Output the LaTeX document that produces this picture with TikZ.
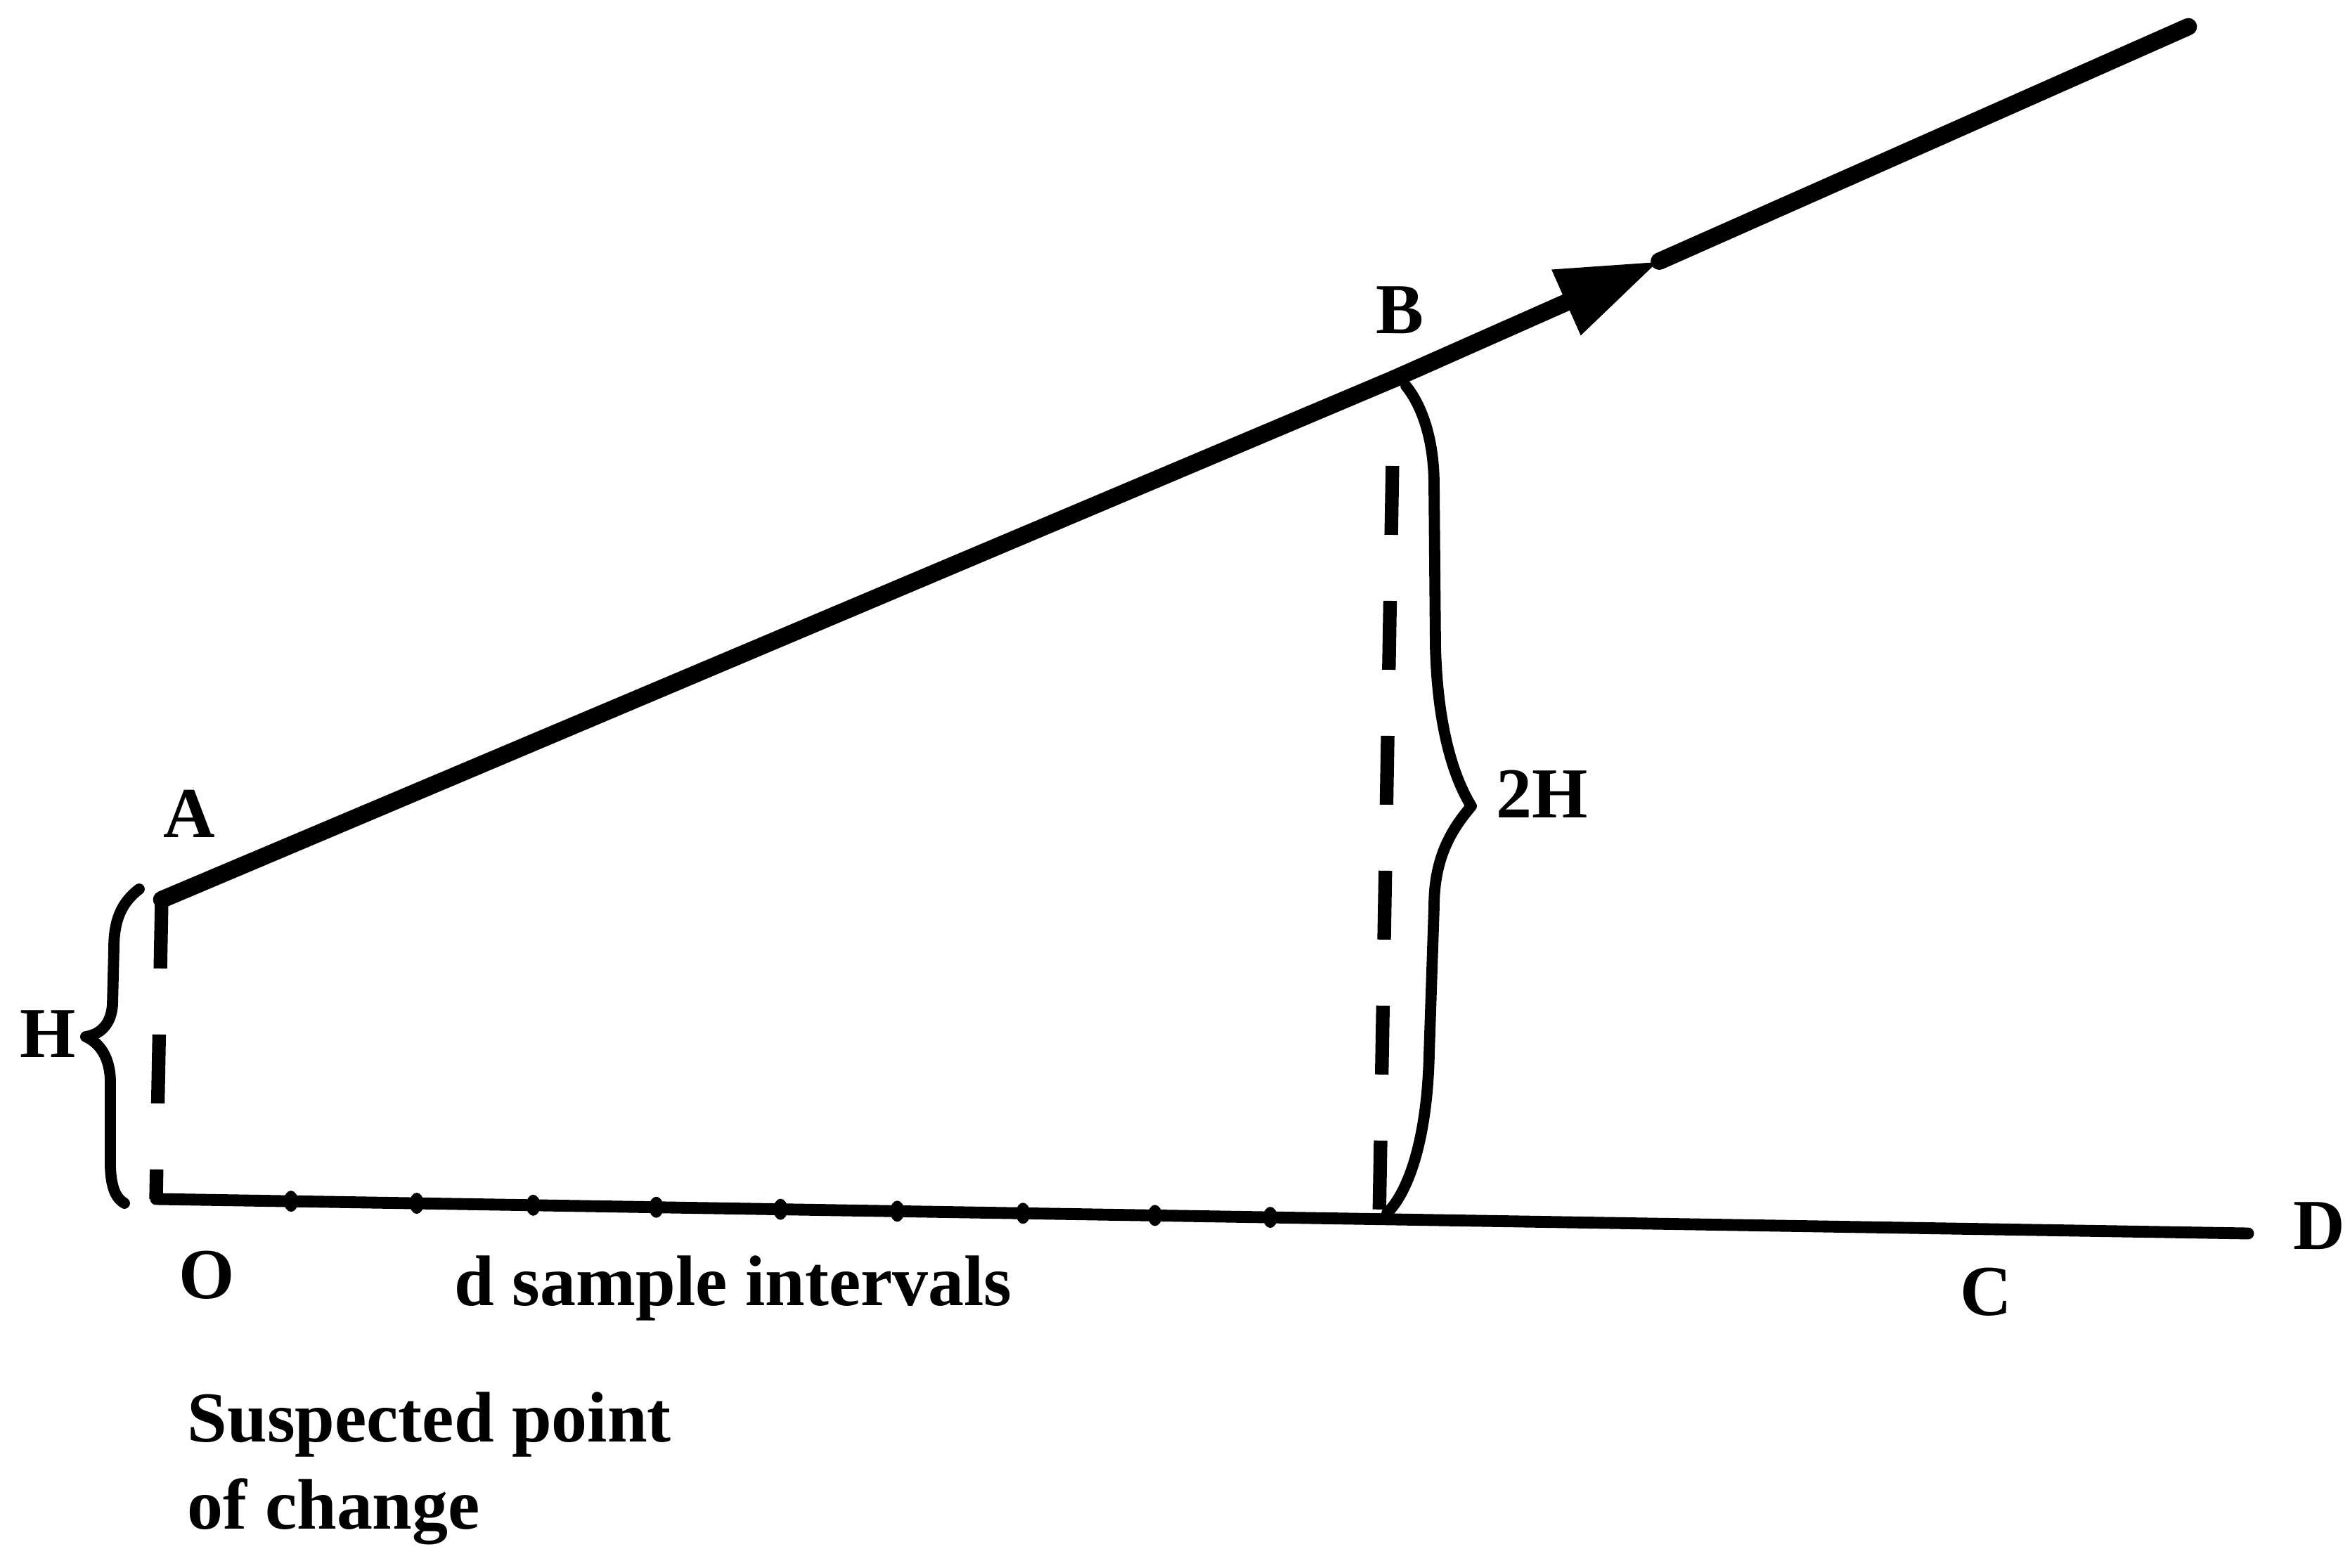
\documentclass[tikz,border=0pt]{standalone}
\usepackage{fontspec}
\setmainfont{Liberation Serif}
\usetikzlibrary{calc,arrows.meta,shapes.geometric}
\begin{document}
\begin{tikzpicture}[
  mainline/.style={line width=7pt, line cap=round, line join=round},
  baseline/.style={line width=4.8pt, line cap=round},
  dashline/.style={line width=5.5pt, dash pattern=on 0.98cm off 0.94cm},
  bracepath/.style={line width=4.5pt, line cap=round, line join=round},
  lbl/.style={inner sep=0pt, font=\fontsize{29}{36}\selectfont\bfseries},
  tick/.style={ellipse, fill=black, inner sep=0pt, minimum width=0.2cm, minimum height=0.3cm}
]
\useasboundingbox (0,0) rectangle (33.43,22.30);

% key points
\coordinate (A) at (2.30,9.50);
\coordinate (O) at (2.22,5.24);
\coordinate (B) at (19.83,16.91);
\coordinate (E) at (31.13,21.92);
\coordinate (Dend) at (31.98,4.75);
\coordinate (Bb) at (19.62,4.95);
\coordinate (Bt) at ($(B)!1.24cm!(Bb)$);
\coordinate (T) at ($(B)!0.334!(E)$);

% bottom line O -- D
\draw[baseline] (O) -- (Dend);
% sample ticks
\foreach \t [count=\i] in {0.0645,0.1246,0.1803,0.2391,0.2985,0.3543,0.4144,0.4775,0.5326}
  \node[tick] (s\i) at ($(O)!\t!(Dend)$) {};

% left dashed line A -- O
\draw[dashline] (A) -- (O);
% right dashed line under B
\draw[dashline] (Bt) -- (Bb);

% main line with arrow
\draw[mainline] (A) -- (B);
\draw[mainline, -{Triangle[length=1.45cm,width=0.95cm]}] (B) -- (T);
\draw[mainline] (T) -- (E);
\fill (B) circle (0.12);

% brace H
\draw[bracepath] (1.98,9.65) .. controls (1.72,9.45) and (1.62,9.20) .. (1.62,8.80)
  -- (1.60,8.00) .. controls (1.58,7.72) and (1.42,7.58) .. (1.22,7.55)
  .. controls (1.42,7.46) and (1.57,7.25) .. (1.57,6.90)
  -- (1.57,5.70) .. controls (1.58,5.40) and (1.65,5.25) .. (1.77,5.18);

% brace 2H
\draw[bracepath] (20.00,16.81) .. controls (20.25,16.50) and (20.40,16.00) .. (20.40,15.40)
  -- (20.42,13.10) .. controls (20.45,11.90) and (20.70,11.20) .. (20.93,10.83)
  .. controls (20.65,10.50) and (20.40,10.10) .. (20.40,9.40)
  -- (20.33,7.30) .. controls (20.30,6.00) and (20.00,5.30) .. (19.73,5.04);

% labels
\node[lbl] (lA) at (2.69,10.72) {A};
\node[lbl] (lB) at (19.91,17.89) {B};
\node[lbl] (lO) at (2.94,4.16) {O};
\node[lbl] (lC) at (28.25,3.92) {C};
\node[lbl, anchor=west] (lD) at (32.62,4.86) {D};
\node[lbl, anchor=west] (l2H) at (21.28,11.0) {2H};
\node[lbl] (lH) at (0.68,7.59) {H};
\node[lbl, anchor=base west] (ld) at (6.46,3.73) {d sample intervals};
\node[lbl, anchor=base west] (ls1) at (2.66,1.79) {Suspected point};
\node[lbl, anchor=base west] (ls2) at (2.66,0.55) {of change};
\end{tikzpicture}
\end{document}
